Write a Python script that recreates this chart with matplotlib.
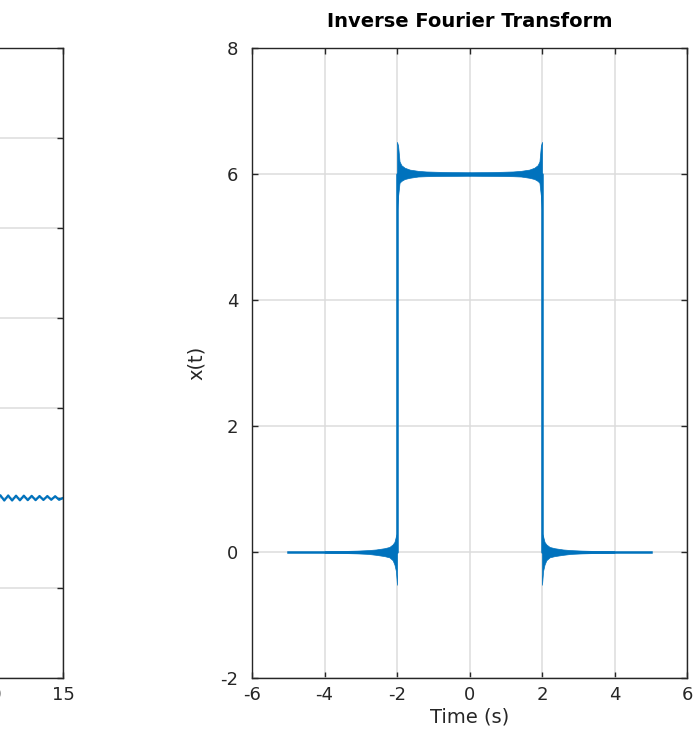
import numpy as np
import matplotlib
matplotlib.use("Agg")
import matplotlib.pyplot as plt

# ---------------- data ----------------
# main pulse outline of the reconstructed signal x(t)
t_outline = [-5.0, -2.0, -2.0, 2.0, 2.0, 5.0]
x_outline = [0.0, 0.0, 6.0, 6.0, 0.0, 0.0]
pulse_low, pulse_high = 0.0, 6.0
edge_left, edge_right = -2.0, 2.0

# Gibbs ringing envelope: distance from an edge, and deviations from the level
ring_dist = [0.00, 0.03, 0.07, 0.12, 0.21, 0.35, 0.58, 0.80, 1.10, 1.50, 2.00]
top_up    = [0.51, 0.45, 0.20, 0.14, 0.10, 0.07, 0.05, 0.04, 0.035, 0.03, 0.028]
top_down  = [0.60, 0.35, 0.14, 0.11, 0.08, 0.06, 0.04, 0.035, 0.032, 0.03, 0.028]
bot_up    = [0.30, 0.25, 0.16, 0.12, 0.08, 0.06, 0.04, 0.03, 0.022, 0.016, 0.012]
bot_down  = [0.52, 0.30, 0.20, 0.13, 0.085, 0.065, 0.045, 0.03, 0.022, 0.016, 0.012]

# visible tail of the left subplot (spectrum ripple near 0)
f_tail = [9.6, 9.87, 10.14, 10.41, 10.68, 10.95, 11.22, 11.49, 11.76, 12.03,
          12.30, 12.57, 12.84, 13.11, 13.38, 13.65, 13.92, 14.19, 14.46, 14.73, 15.0]
X_tail = [0.16, -0.16, 0.15, -0.15, 0.15, -0.14, 0.14, -0.14, 0.13, -0.13,
          0.13, -0.12, 0.12, -0.12, 0.11, -0.11, 0.11, -0.10, 0.10, -0.10, 0.0]

right_xticks = [-6, -4, -2, 0, 2, 4, 6]
right_yticks = [-2, 0, 2, 4, 6, 8]
left_xticks = [-15, -10, -5, 0, 5, 10, 15]
left_xticklabels = ['', '', '', '', '', '10', '15']   # only these reach the image
left_yticks = [-10, -5, 0, 5, 10, 15, 20, 25]

title_text = "Inverse Fourier Transform"
xlabel_text = "Time (s)"
ylabel_text = "x(t)"

# ---------------- style ----------------
BLUE = "#0072BD"
AX = "#262626"
GRID = "#dcdcdc"
plt.rcParams['font.family'] = ['DejaVu Sans']
plt.rcParams['axes.unicode_minus'] = False

fig = plt.figure(figsize=(6.98, 7.31), dpi=100)
W, H = 698.0, 731.0

def style(ax):
    for s in ax.spines.values():
        s.set_color(AX)
        s.set_linewidth(1.0)
    ax.tick_params(direction='in', length=4.3, width=1.0, colors=AX,
                   top=True, right=True, labelsize=13)
    ax.grid(True, color=GRID, linewidth=1.1)
    ax.set_axisbelow(True)

# left subplot (mostly outside the image)
axL = fig.add_axes([(63 - 435) / W, (H - 678) / H, 435 / W, 630 / H])
style(axL)
axL.plot(f_tail, X_tail, color=BLUE, linewidth=1.6)
axL.set_xlim(-15, 15)
axL.set_ylim(-10, 25)
axL.set_xticks(left_xticks)
axL.set_xticklabels(left_xticklabels)
axL.set_yticks(left_yticks)
axL.tick_params(axis='y', labelleft=False)
axL.tick_params(axis='x', pad=6)

# right subplot
axR = fig.add_axes([252 / W, (H - 678) / H, 435 / W, 630 / H])
style(axR)

d = np.array(ring_dist)
for edge, sgn_in in ((edge_left, 1), (edge_right, -1)):
    # outside the pulse, around the low level
    axR.fill_between(edge - sgn_in * d, pulse_low - np.array(bot_down),
                     pulse_low + np.array(bot_up),
                     color=BLUE, linewidth=0.5, edgecolor=BLUE)
    # inside the pulse, around the high level
    axR.fill_between(edge + sgn_in * d, pulse_high - np.array(top_down),
                     pulse_high + np.array(top_up),
                     color=BLUE, linewidth=0.5, edgecolor=BLUE)
axR.plot(t_outline, x_outline, color=BLUE, linewidth=1.8)

axR.set_xlim(-6, 6)
axR.set_ylim(-2, 8)
axR.set_xticks(right_xticks)
axR.set_yticks(right_yticks)
axR.tick_params(axis='x', pad=6)
axR.tick_params(axis='y', pad=10)
axR.set_title(title_text, fontsize=14, fontweight='bold', color='black', pad=15)
axR.set_xlabel(xlabel_text, fontsize=14, color=AX, labelpad=2)
axR.set_ylabel(ylabel_text, fontsize=14, color=AX, labelpad=10)

fig.savefig("out.png", dpi=100)
